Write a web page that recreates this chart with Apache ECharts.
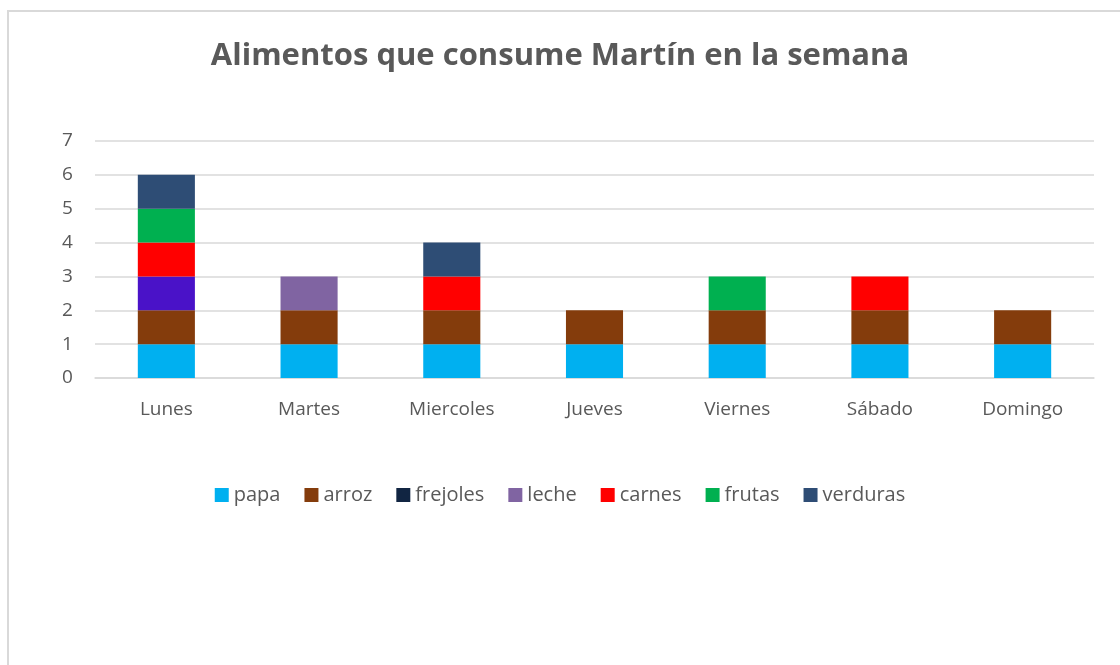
<!DOCTYPE html>
<html><head><meta charset="utf-8">
<script src="https://cdn.jsdelivr.net/npm/echarts@6/dist/echarts.min.js"></script>
<style>
html,body{margin:0;padding:0;background:#fff;width:1120px;height:665px;overflow:hidden;}
#frame{position:absolute;left:7px;top:10px;width:1120px;height:700px;border:2px solid #D9D9D9;box-sizing:border-box;}
#chart{position:absolute;left:0;top:0;width:1120px;height:665px;}
</style></head><body>
<div id="frame"></div>
<div id="chart"></div>
<script>
const categories = ['Lunes','Martes','Miercoles','Jueves','Viernes','Sábado','Domingo'];
const papa     = [1,1,1,1,1,1,1];
const arroz    = [1,1,1,1,1,1,1];
const frejoles = [1,0,0,0,0,0,0];
const leche    = [0,1,0,0,0,0,0];
const carnes   = [1,0,1,0,0,1,0];
const frutas   = [1,0,0,0,1,0,0];
const verduras = [1,0,1,0,0,0,0];
const yTicks = [0,1,2,3,4,5,6,7];

const seriesDefs = [
  ['papa', papa, '#00B0F0'],
  ['arroz', arroz, '#843C0C'],
  ['frejoles', frejoles, '#112542'],
  ['leche', leche, '#8064A2'],
  ['carnes', carnes, '#FF0000'],
  ['frutas', frutas, '#00B050'],
  ['verduras', verduras, '#2E4D75']
];
const pointOverrides = {frejoles: {0: '#4A12C8'}};

const chart = echarts.init(document.getElementById('chart'));
chart.setOption({
  backgroundColor: 'transparent',
  animation: false,
  title: {
    text: 'Alimentos que consume Martín en la semana',
    left: 'center', top: 36,
    textStyle: {fontFamily: 'Open Sans', fontWeight: 'bold', fontSize: 31, color: '#595959'}
  },
  legend: {
    bottom: 155, left: 'center',
    itemWidth: 14, itemHeight: 14, itemGap: 24,
    icon: 'rect',
    textStyle: {fontFamily: 'Open Sans', fontSize: 20, color: '#595959'},
    data: seriesDefs.map(s => s[0])
  },
  grid: {left: 95, right: 26, top: 141, bottom: 287, containLabel: false},
  xAxis: {
    type: 'category', data: categories,
    axisLine: {show: true, lineStyle: {color: '#D9D9D9', width: 1.5}},
    axisTick: {show: false},
    axisLabel: {fontFamily: 'Open Sans', fontSize: 19, color: '#595959', margin: 22}
  },
  yAxis: {
    type: 'value', min: yTicks[0], max: yTicks[yTicks.length-1], interval: 1,
    axisLine: {show: false}, axisTick: {show: false},
    splitLine: {lineStyle: {color: '#D9D9D9', width: 1.5}},
    axisLabel: {fontFamily: 'Open Sans', fontSize: 19, color: '#595959', margin: 33, align: 'left'}
  },
  series: seriesDefs.map(([name, vals, color]) => ({
    name, type: 'bar', stack: 'total', barWidth: '40%',
    itemStyle: {color},
    data: vals.map((v, i) => {
      const ov = pointOverrides[name] && pointOverrides[name][i];
      return ov ? {value: v, itemStyle: {color: ov}} : v;
    })
  }))
});
</script>
</body></html>
